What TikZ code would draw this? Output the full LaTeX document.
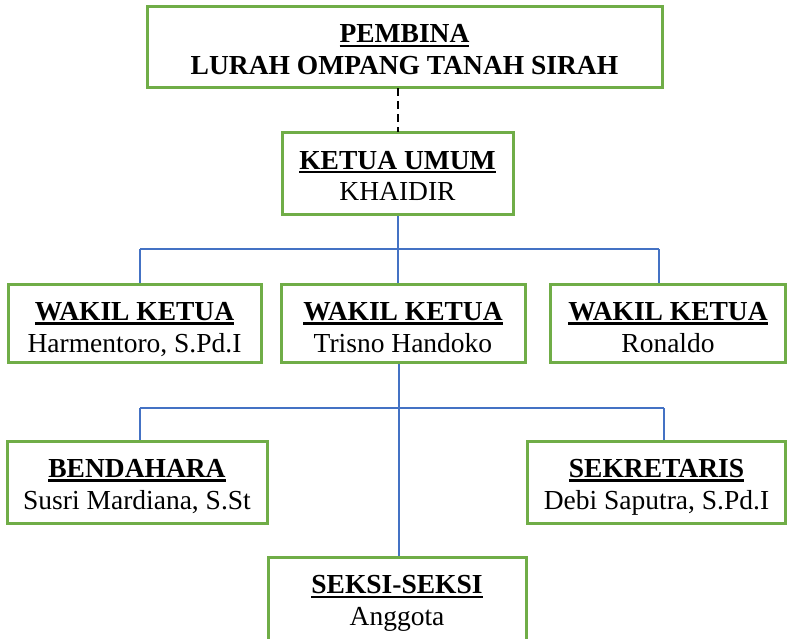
\documentclass[tikz,border=0pt]{standalone}
\usepackage{fontspec}
\setmainfont{Liberation Serif}
\definecolor{boxgreen}{HTML}{70AD47}
\definecolor{lineblue}{HTML}{4472C4}
\newcommand\ulx[1]{\setbox0\hbox{#1}\rlap{\rule[-4.5pt]{\wd0}{2.4pt}}\box0}
\tikzset{
  orgbox/.style n args={2}{draw=boxgreen, line width=3pt, align=center, inner sep=0pt,
    font=\fontsize{27.5}{32}\selectfont, minimum height=#1, minimum width=#2,
    text height=60pt, text depth=#1-76pt},
  bus/.style={draw=lineblue, line width=1.5pt},
  dash line/.style={draw=black, line width=2pt, dash pattern=on 8pt off 5pt}
}
\begin{document}
\begin{tikzpicture}[x=1pt,y=-1pt]
\useasboundingbox (0,0) rectangle (787,639);
\clip (0,0) rectangle (787,639);
\node[orgbox={81pt}{515pt}] (pemb) at (404.5,47.5) {\textbf{\ulx{PEMBINA}}\\\textbf{LURAH OMPANG TANAH SIRAH}};
\node[orgbox={82pt}{231pt}] (ketua) at (397.5,174) {\textbf{\ulx{KETUA UMUM}}\\KHAIDIR};
\node[orgbox={78pt}{253pt}] (w1) at (134.5,323) {\textbf{\ulx{WAKIL KETUA}}\\Harmentoro, S.Pd.I};
\node[orgbox={78pt}{244pt}] (w2) at (403,323) {\textbf{\ulx{WAKIL KETUA}}\\Trisno Handoko};
\node[orgbox={78pt}{235pt}] (w3) at (668,323) {\textbf{\ulx{WAKIL KETUA}}\\Ronaldo};
\node[orgbox={82pt}{260pt}] (bend) at (137,482) {\textbf{\ulx{BENDAHARA}}\\Susri Mardiana, S.St};
\node[orgbox={82pt}{258pt}] (sek) at (656.5,482) {\textbf{\ulx{SEKRETARIS}}\\Debi Saputra, S.Pd.I};
\node[orgbox={88pt}{258pt}, anchor=north] (seksi) at (397,556) {\textbf{\ulx{SEKSI-SEKSI}}\\Anggota};
% dashed link
\draw[dash line] (398,88.5) -- (398,132.5);
% upper bus
\coordinate (b1) at (398,249);
\coordinate (bl) at (140,249);
\coordinate (br) at (659,249);
\draw[bus] (ketua.south -| b1) -- (b1);
\draw[bus] (bl) -- (br);
\draw[bus] (bl) -- (bl |- w1.north);
\draw[bus] (b1) -- (b1 |- w2.north);
\draw[bus] (br) -- (br |- w3.north);
% lower bus
\coordinate (c1) at (399,408);
\coordinate (cl) at (140,408);
\coordinate (cr) at (664,408);
\draw[bus] (c1 |- w2.south) -- (c1 |- seksi.north);
\draw[bus] (cl) -- (cr);
\draw[bus] (cl) -- (cl |- bend.north);
\draw[bus] (cr) -- (cr |- sek.north);
\end{tikzpicture}
\end{document}
